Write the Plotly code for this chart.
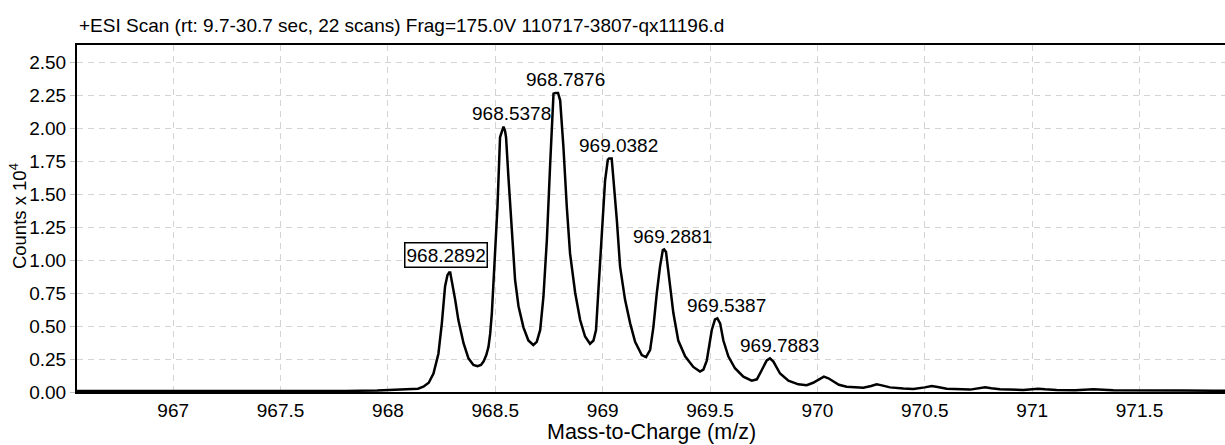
import plotly.graph_objects as go

# ---- data (Counts x 10^4 vs m/z) ----
mz = [966.552, 966.80, 967.00, 967.30, 967.60, 967.80, 967.95, 968.05, 968.10, 968.119,
      968.140, 968.165, 968.190, 968.212, 968.235, 968.251, 968.266, 968.277, 968.285, 968.290,
      968.297, 968.313, 968.328, 968.352, 968.375, 968.398, 968.417, 968.433, 968.445, 968.458,
      968.468, 968.476, 968.484, 968.496, 968.510, 968.522, 968.530, 968.538, 968.545, 968.550,
      968.561, 968.577, 968.592, 968.608, 968.631, 968.654, 968.677, 968.693, 968.709, 968.724,
      968.740, 968.755, 968.771, 968.781, 968.792, 968.802, 968.817, 968.833, 968.848, 968.872,
      968.895, 968.918, 968.941, 968.957, 968.969, 968.980, 968.996, 969.011, 969.024, 969.030,
      969.042, 969.050, 969.066, 969.081, 969.104, 969.128, 969.151, 969.182, 969.202, 969.221,
      969.236, 969.252, 969.267, 969.280, 969.286, 969.295, 969.311, 969.329, 969.352, 969.384,
      969.422, 969.453, 969.469, 969.485, 969.508, 969.523, 969.534, 969.547, 969.562, 969.585,
      969.616, 969.655, 969.694, 969.718, 969.741, 969.764, 969.779, 969.795, 969.826, 969.865,
      969.911, 969.950, 969.980, 970.010, 970.030, 970.051, 970.074, 970.100, 970.136, 970.214,
      970.250, 970.276, 970.300, 970.338, 970.400, 970.447, 970.500, 970.532, 970.560, 970.602,
      970.711, 970.760, 970.781, 970.810, 970.850, 970.959, 971.028, 971.060, 971.114, 971.200,
      971.285, 971.378, 971.533, 971.700, 971.843, 971.898]
counts = [0.008, 0.007, 0.006, 0.006, 0.006, 0.008, 0.012, 0.017, 0.019, 0.020,
          0.025, 0.040, 0.070, 0.140, 0.290, 0.520, 0.800, 0.885, 0.905, 0.905,
          0.850, 0.700, 0.545, 0.370, 0.255, 0.205, 0.195, 0.205, 0.230, 0.280,
          0.340, 0.440, 0.600, 0.950, 1.400, 1.930, 1.980, 2.010, 1.980, 1.930,
          1.630, 1.230, 0.850, 0.650, 0.490, 0.390, 0.356, 0.380, 0.470, 0.720,
          1.150, 1.710, 2.260, 2.266, 2.266, 2.210, 1.860, 1.400, 1.050, 0.750,
          0.545, 0.420, 0.365, 0.390, 0.470, 0.770, 1.230, 1.600, 1.760, 1.770,
          1.770, 1.630, 1.300, 0.950, 0.700, 0.520, 0.380, 0.280, 0.265, 0.320,
          0.490, 0.750, 0.950, 1.075, 1.080, 1.060, 0.850, 0.600, 0.390, 0.270,
          0.190, 0.155, 0.170, 0.240, 0.470, 0.550, 0.558, 0.520, 0.390, 0.270,
          0.180, 0.116, 0.086, 0.096, 0.167, 0.240, 0.255, 0.230, 0.140, 0.086,
          0.058, 0.052, 0.070, 0.100, 0.116, 0.104, 0.078, 0.055, 0.040, 0.033,
          0.045, 0.058, 0.050, 0.035, 0.026, 0.023, 0.035, 0.045, 0.038, 0.025,
          0.018, 0.030, 0.035, 0.028, 0.020, 0.015, 0.025, 0.020, 0.015, 0.014,
          0.020, 0.013, 0.015, 0.012, 0.010, 0.010]

peak_labels = ["968.2892", "968.5378", "968.7876", "969.0382", "969.2881", "969.5387", "969.7883"]
peak_heights = [0.905, 2.010, 2.266, 1.770, 1.080, 0.558, 0.255]
boxed_label = "968.2892"

x_tickvals = [967, 967.5, 968, 968.5, 969, 969.5, 970, 970.5, 971, 971.5]
x_ticktext = ["967", "967.5", "968", "968.5", "969", "969.5", "970", "970.5", "971", "971.5"]
y_tickvals = [0, 0.25, 0.5, 0.75, 1.0, 1.25, 1.5, 1.75, 2.0, 2.25, 2.5]
y_ticktext = ["0.00", "0.25", "0.50", "0.75", "1.00", "1.25", "1.50", "1.75", "2.00", "2.25", "2.50"]

title_text = "+ESI Scan (rt: 9.7-30.7 sec, 22 scans) Frag=175.0V 110717-3807-qx11196.d"
x_title = "Mass-to-Charge (m/z)"
y_title = "Counts x 10<sup>4</sup>"

FONT = "Liberation Sans, Arial, sans-serif"

fig = go.Figure()
fig.add_trace(go.Scatter(x=mz, y=counts, mode="lines",
                         line=dict(color="black", width=2.5), hoverinfo="skip",
                         showlegend=False))

annotations = []
for lab, h in zip(peak_labels, peak_heights):
    boxed = lab == boxed_label
    a = dict(x=float(lab), y=h, xref="x", yref="y", text=lab, showarrow=False,
             font=dict(family=FONT, size=19, color="black"),
             xanchor="center", yanchor="middle",
             xshift=-4 if boxed else 8, yshift=18 if boxed else 13)
    if boxed:
        a.update(bordercolor="black", borderwidth=1.5, borderpad=1, bgcolor="white")
    annotations.append(a)

annotations.append(dict(text=title_text, xref="paper", yref="paper", x=0, y=1,
                        xanchor="left", yanchor="middle", yshift=20, showarrow=False,
                        font=dict(family=FONT, size=19, color="black")))
annotations.append(dict(text=x_title, xref="paper", yref="paper", x=0.5, y=0,
                        xanchor="center", yanchor="middle", yshift=-40, showarrow=False,
                        font=dict(family=FONT, size=21.5, color="black")))
annotations.append(dict(text=y_title, xref="paper", yref="paper", x=0, y=0.507,
                        xanchor="center", yanchor="middle", xshift=-59, showarrow=False,
                        textangle=-90, font=dict(family=FONT, size=18.5, color="black")))

fig.update_layout(
    width=1225, height=445,
    margin=dict(l=77, r=0, t=45, b=53),
    paper_bgcolor="white", plot_bgcolor="white",
    font=dict(family=FONT, size=19, color="black"),
    annotations=annotations,
    xaxis=dict(range=[966.552, 971.898], tickvals=x_tickvals, ticktext=x_ticktext,
               showline=True, linecolor="black", linewidth=2, mirror=True,
               showgrid=True, gridcolor="#d4d4d4", gridwidth=1, griddash="6px,5px",
               zeroline=False, ticks="", tickfont=dict(family=FONT, size=19)),
    yaxis=dict(range=[0, 2.629], tickvals=y_tickvals, ticktext=y_ticktext,
               showline=True, linecolor="black", linewidth=2,
               showgrid=True, gridcolor="#d4d4d4", gridwidth=1, griddash="6px,5px",
               zeroline=False, ticks="outside", ticklen=5, tickcolor="#c0c0c0",
               tickfont=dict(family=FONT, size=19)),
)

fig.write_html("out.html")
